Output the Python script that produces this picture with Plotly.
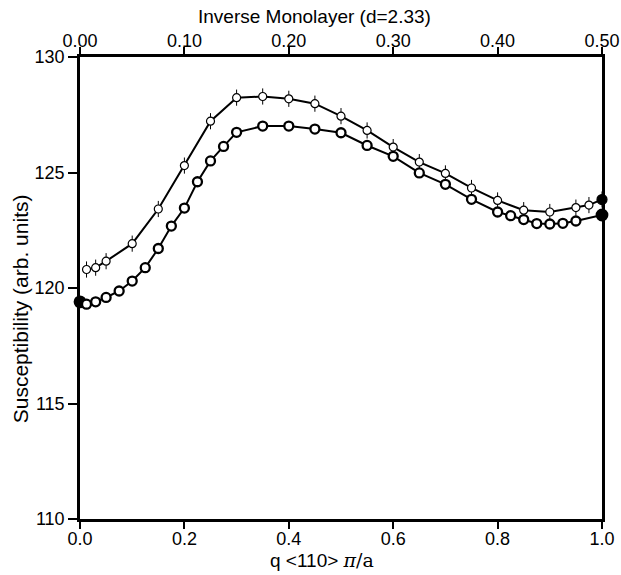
import plotly.graph_objects as go

# Data
upper_q = [0.0125, 0.03, 0.05, 0.1, 0.15, 0.2, 0.25, 0.3, 0.35, 0.4, 0.45, 0.5,
           0.55, 0.6, 0.65, 0.7, 0.75, 0.8, 0.85, 0.9, 0.95, 0.975, 1.0]
upper_chi = [120.80, 120.88, 121.16, 121.92, 123.42, 125.30, 127.22, 128.24, 128.29,
             128.19, 127.98, 127.44, 126.82, 126.10, 125.45, 124.96, 124.33, 123.79,
             123.37, 123.29, 123.48, 123.59, 123.83]
upper_err = [0.35] * len(upper_q)

lower_q = [0.0, 0.0125, 0.03, 0.05, 0.075, 0.1, 0.125, 0.15, 0.175, 0.2, 0.225, 0.25,
           0.275, 0.3, 0.35, 0.4, 0.45, 0.5, 0.55, 0.6, 0.65, 0.7, 0.75, 0.8, 0.825,
           0.85, 0.875, 0.9, 0.925, 0.95, 1.0]
lower_chi = [119.40, 119.30, 119.40, 119.59, 119.87, 120.30, 120.88, 121.71, 122.68,
             123.46, 124.60, 125.50, 126.13, 126.74, 127.01, 127.01, 126.88, 126.72,
             126.17, 125.70, 124.98, 124.49, 123.84, 123.29, 123.13, 122.96, 122.79,
             122.77, 122.80, 122.90, 123.16]

x_ticks = [0.0, 0.2, 0.4, 0.6, 0.8, 1.0]
top_ticks = [0.0, 0.1, 0.2, 0.3, 0.4, 0.5]
y_ticks = [110, 115, 120, 125, 130]

x_title = "q &lt;110&gt; <span style='font-family:DejaVu Serif'><i>π</i>/a</span>"
top_title = "Inverse Monolayer (d=2.33)"
y_title = "Susceptibility (arb. units)"

FONT = "Liberation Sans, Arial, Helvetica, sans-serif"


def is_end(q):
    return q in (0.0, 1.0)


fig = go.Figure()
fig.add_trace(go.Scatter(
    x=upper_q, y=upper_chi, mode="lines+markers",
    line=dict(color="black", width=2),
    marker=dict(symbol="circle", size=[10 if is_end(q) else 8 for q in upper_q],
                color=["black" if is_end(q) else "white" for q in upper_q], opacity=1,
                line=dict(color="black", width=1.2)),
    error_y=dict(type="data", array=upper_err, visible=True, color="black",
                 thickness=1, width=0),
    cliponaxis=False, showlegend=False, hoverinfo="skip",
))
fig.add_trace(go.Scatter(
    x=lower_q, y=lower_chi, mode="lines+markers",
    line=dict(color="black", width=2),
    marker=dict(symbol="circle", size=[10.5 if is_end(q) else 9 for q in lower_q],
                color=["black" if is_end(q) else "white" for q in lower_q], opacity=1,
                line=dict(color="#000000", width=2.3)),
    cliponaxis=False, showlegend=False, hoverinfo="skip",
))
# invisible companion trace so the top (inverse monolayer) axis is drawn
fig.add_trace(go.Scatter(
    x=[q / 2 for q in upper_q], y=upper_chi, xaxis="x2", mode="markers",
    marker=dict(opacity=0), showlegend=False, hoverinfo="skip",
))

axis_common = dict(showgrid=False, zeroline=False, showline=True,
                   linecolor="black", linewidth=2.5, tickcolor="black",
                   tickwidth=2, ticks="outside")

fig.update_layout(
    width=621, height=575,
    margin=dict(l=80, r=19, t=57, b=56, autoexpand=False),
    paper_bgcolor="white", plot_bgcolor="white",
    font=dict(family=FONT, size=18, color="black"),
    xaxis=dict(
        range=[0, 1], tickvals=x_ticks, tickformat=".1f", ticklen=2,
        minor=dict(tickvals=x_ticks, ticks="outside", ticklen=7,
                   tickwidth=2, tickcolor="black", showgrid=False),
        **axis_common,
    ),
    xaxis2=dict(
        range=[0, 0.5], tickvals=top_ticks, tickformat=".2f", ticklen=0,
        minor=dict(tickvals=top_ticks, ticks="outside", ticklen=7,
                   tickwidth=2, tickcolor="black", showgrid=False),
        overlaying="x", side="top", anchor="y",
        **axis_common,
    ),
    yaxis=dict(
        range=[110, 130], tickvals=y_ticks, ticklen=9, mirror=True,
        **axis_common,
    ),
    annotations=[
        dict(text=top_title, xref="paper", yref="paper", x=0.450, y=1.087,
             xanchor="center", yanchor="middle", showarrow=False,
             font=dict(size=19)),
        dict(text=x_title, xref="paper", yref="paper", x=0.4636, y=-0.0886,
             xanchor="center", yanchor="middle", showarrow=False,
             font=dict(size=19)),
        dict(text=y_title, xref="paper", yref="paper", x=-0.115, y=0.456,
             xanchor="center", yanchor="middle", showarrow=False, textangle=-90,
             font=dict(size=21)),
    ],
)

fig.write_html("out.html", post_script="document.body.style.margin='0px';",
               config={"displayModeBar": False})
